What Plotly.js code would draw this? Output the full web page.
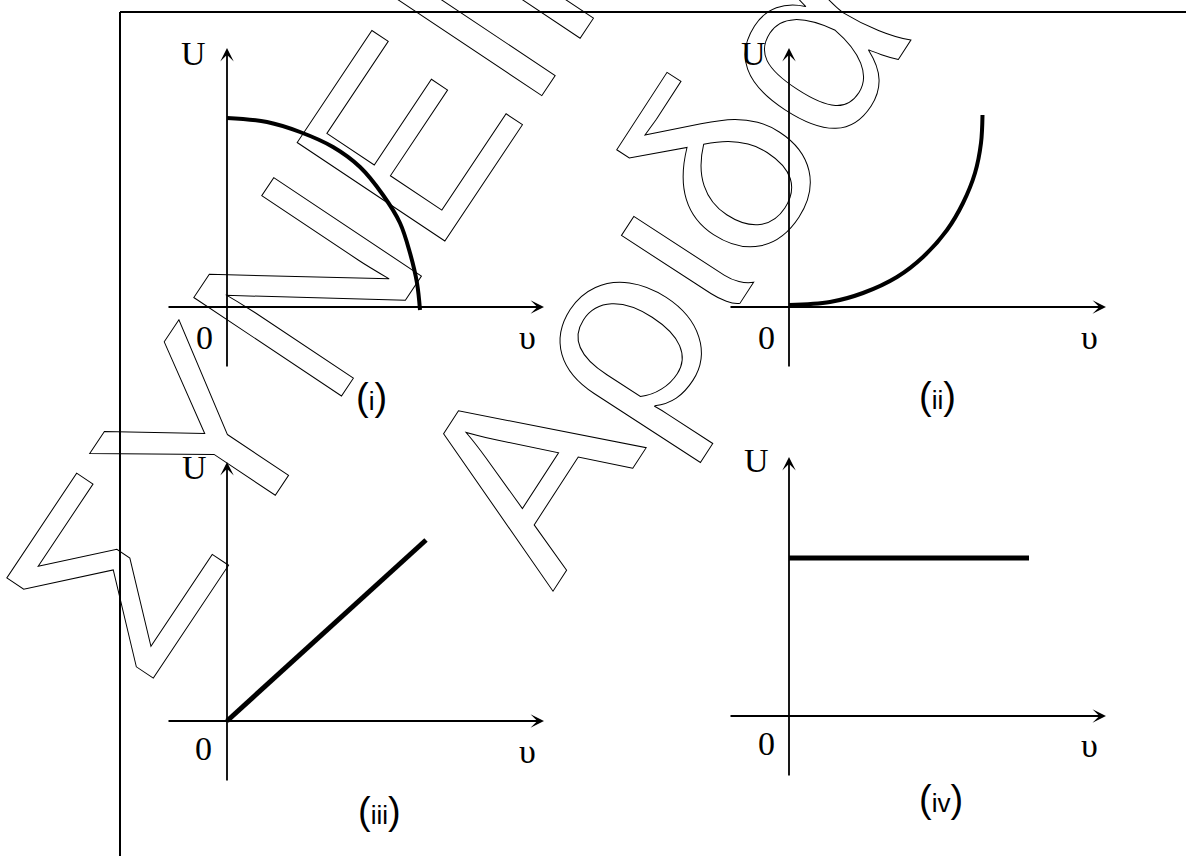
<!DOCTYPE html>
<html>
<head>
<meta charset="utf-8">
<script src="https://cdn.plot.ly/plotly-3.0.1.min.js"></script>
<style>
  html, body { margin: 0; padding: 0; background: #fff; }
  #graph { width: 1186px; height: 856px; }
</style>
</head>
<body>
<div id="graph"></div>
<script>
// velocity / energy readings for the four sketches (arbitrary units)
var speedI = [0, 0.40, 0.73, 1.06, 1.33, 1.56, 1.73, 1.83, 1.90, 1.93];
var energyI = [1.89, 1.85, 1.75, 1.60, 1.40, 1.12, 0.84, 0.54, 0.24, -0.03];

var speedII = [0, 0.41, 0.74, 1.08, 1.34, 1.58, 1.74, 1.86, 1.92, 1.935];
var energyII = [0.02, 0.05, 0.14, 0.30, 0.50, 0.77, 1.04, 1.34, 1.64, 1.92];

var speedIII = [0, 1.99];
var energyIII = [0, 1.81];

var speedIV = [0, 2.40];
var energyIV = [1.58, 1.58];

var panelNames = ['(i)', '(ii)', '(iii)', '(iv)'];
var axisNames = {u: 'U', zero: '0', v: 'υ'};
var watermarkTexts = ['ΣΥΝΕΙΡ', 'Αριδα'];

var W = 1186, H = 856;
var xRange = [-0.6, 3.17];
var yRange = [-0.61, 2.59];

function px(x) { return x / W; }
function py(y) { return 1 - y / H; }

// plot boxes in pixels: [left, right, top, bottom]
var boxes = [
    [167, 544, 48, 368],
    [729, 1106, 48, 368],
    [167, 544, 462, 782],
    [729, 1106, 457, 777]
];

var curves = [
    {x: speedI, y: energyI, w: 4, shape: 'spline'},
    {x: speedII, y: energyII, w: 4, shape: 'spline'},
    {x: speedIII, y: energyIII, w: 5, shape: 'linear'},
    {x: speedIV, y: energyIV, w: 5, shape: 'linear'}
];

// label centres in pixels: U, 0, v, panel name
var labelPos = [
    [[193.5, 54], [204, 337], [527, 337], [371, 397]],
    [[754, 53.5], [766, 337], [1089, 337], [937, 396]],
    [[194, 467], [203, 748], [527, 751], [379, 811]],
    [[756, 461], [766, 743], [1089, 745], [941, 799]]
];

var traces = [];
var annotations = [];
var layout = {
    width: W,
    height: H,
    margin: {l: 0, r: 0, t: 0, b: 0},
    paper_bgcolor: '#fff',
    plot_bgcolor: 'rgba(0,0,0,0)',
    showlegend: false,
    shapes: [
        {type: 'line', xref: 'paper', yref: 'paper', x0: px(120), x1: px(120), y0: py(12), y1: 0,
            line: {color: '#000', width: 2}},
        {type: 'line', xref: 'paper', yref: 'paper', x0: px(120), x1: 1, y0: py(12), y1: py(12),
            line: {color: '#000', width: 2}}
    ]
};

// watermark, drawn as outlined letters after plotting
var wmFont = {family: 'Liberation Sans, Arial, sans-serif', size: 258, color: '#000'};
annotations.push({
    xref: 'paper', yref: 'paper', x: px(330), y: py(251), xanchor: 'center', yanchor: 'middle',
    text: watermarkTexts[0], showarrow: false, textangle: -56.3, font: wmFont
});
annotations.push({
    xref: 'paper', yref: 'paper', x: px(660), y: py(263), xanchor: 'center', yanchor: 'middle',
    text: watermarkTexts[1], showarrow: false, textangle: -57, font: wmFont
});

for (let i = 0; i < 4; i++) {
    let suffix = i === 0 ? '' : String(i + 1);
    let box = boxes[i];
    layout['xaxis' + suffix] = {
        domain: [px(box[0]), px(box[1])],
        range: xRange,
        visible: false,
        anchor: 'y' + suffix
    };
    layout['yaxis' + suffix] = {
        domain: [py(box[3]), py(box[2])],
        range: yRange,
        visible: false,
        anchor: 'x' + suffix
    };

    traces.push({
        x: curves[i].x,
        y: curves[i].y,
        xaxis: 'x' + suffix,
        yaxis: 'y' + suffix,
        type: 'scatter',
        mode: 'lines',
        line: {color: '#000', width: curves[i].w, shape: curves[i].shape},
        hoverinfo: 'skip'
    });

    // axes drawn as arrows
    annotations.push({
        xref: 'x' + suffix, yref: 'y' + suffix, axref: 'x' + suffix, ayref: 'y' + suffix,
        x: xRange[1], y: 0, ax: xRange[0], ay: 0, text: '',
        showarrow: true, arrowhead: 3, arrowsize: 1.25, arrowwidth: 1.8, arrowcolor: '#000', standoff: 0
    });
    annotations.push({
        xref: 'x' + suffix, yref: 'y' + suffix, axref: 'x' + suffix, ayref: 'y' + suffix,
        x: 0, y: yRange[1], ax: 0, ay: yRange[0], text: '',
        showarrow: true, arrowhead: 3, arrowsize: 1.25, arrowwidth: 1.8, arrowcolor: '#000', standoff: 0
    });

    let serif = {family: 'Liberation Serif, Times New Roman, serif', size: 34, color: '#000'};
    let texts = [axisNames.u, axisNames.zero, axisNames.v];
    for (let k = 0; k < 3; k++) {
        annotations.push({
            xref: 'paper', yref: 'paper', x: px(labelPos[i][k][0]), y: py(labelPos[i][k][1]),
            xanchor: 'center', yanchor: 'middle', showarrow: false,
            text: texts[k], font: serif
        });
    }
    let name = panelNames[i];
    annotations.push({
        xref: 'paper', yref: 'paper', x: px(labelPos[i][3][0]), y: py(labelPos[i][3][1]),
        xanchor: 'center', yanchor: 'middle', showarrow: false,
        text: '<span style="font-size:38px">(</span>' + name.slice(1, -1) + '<span style="font-size:38px">)</span>',
        font: {family: 'Liberation Sans, Arial, sans-serif', size: 26, color: '#000'}
    });
}

layout.annotations = annotations;

Plotly.newPlot('graph', traces, layout, {staticPlot: true}).then(function (gd) {
    for (let idx = 0; idx < watermarkTexts.length; idx++) {
        let node = gd.querySelector('g.annotation[data-index="' + idx + '"] text');
        if (node) {
            node.style.fill = 'none';
            node.style.stroke = '#000';
            node.style.strokeWidth = '1px';
        }
    }
});
</script>
</body>
</html>
